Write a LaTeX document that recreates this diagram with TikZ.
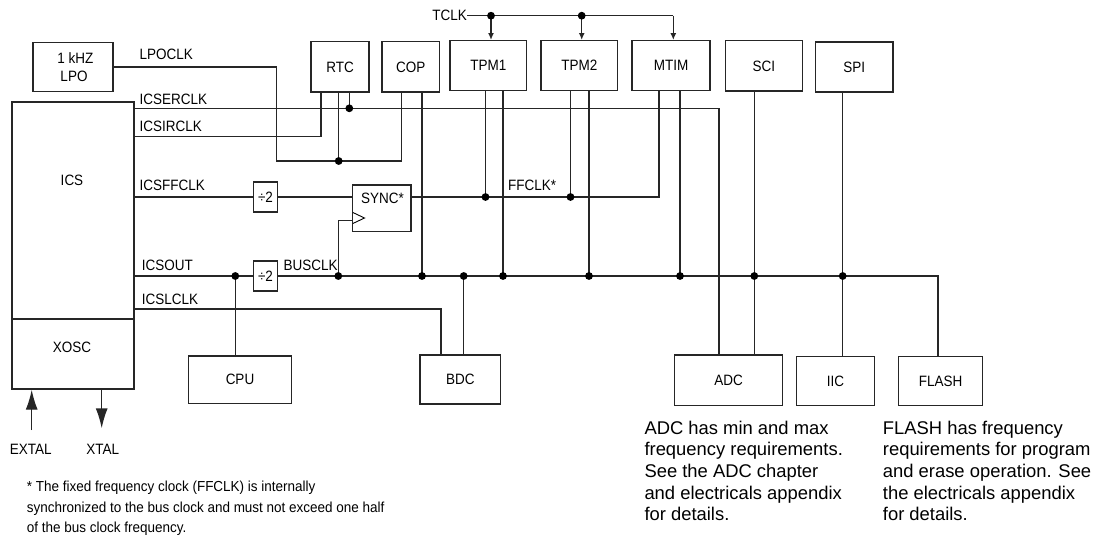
\documentclass[tikz,border=0pt]{standalone}
\usepackage{fontspec}
\setmainfont{Liberation Sans}
\newfontfamily\narrowfont[FakeStretch=0.9]{Liberation Sans}
\newfontfamily\footfont[FakeStretch=0.93]{Liberation Sans}
\usetikzlibrary{arrows.meta}
\begin{document}
\begin{tikzpicture}[x=1pt,y=-1pt,
  wire/.style={line width=1.4pt, black!85},
  blk/.style={draw=black!85, line width=1.4pt, inner sep=0pt, font=\narrowfont\fontsize{15}{18}\selectfont},
  lbl/.style={inner sep=0pt, font=\narrowfont\fontsize{15}{18}\selectfont},
  note/.style={inner sep=0pt, anchor=base west, font=\fontsize{18.4}{21.7}\selectfont},
  foot/.style={inner sep=0pt, anchor=base west, font=\footfont\fontsize{14.5}{20.7}\selectfont},
  jdot/.style={fill=black},
  smallarrow/.style={wire,-{Latex[length=7pt,width=6pt]}},
  bigarrow/.style={wire,-{Latex[length=20pt,width=12pt]}}]
\useasboundingbox (0,0) rectangle (1094,538);
\fill[white] (0,0) rectangle (1094,538);

% ---------- blocks ----------
\node[blk, minimum width=80pt, minimum height=49pt] (lpo) at (73,67) {};
\node[lbl, anchor=base] (lpo1) at (75.5,63.3) {1 kHZ};
\node[lbl, anchor=base] (lpo2) at (74,81.7) {LPO};
\node[blk, minimum width=122pt, minimum height=217pt] (ics) at (73,210.5) {};
\node[lbl] (icsl) at (72,180.5) {ICS};
\node[blk, minimum width=122pt, minimum height=70pt] (xosc) at (73,354) {};
\node[lbl] (xoscl) at (72,347) {XOSC};

\node[blk, minimum width=58pt, minimum height=50.3pt] (rtc) at (340,66.85) {RTC};
\node[blk, minimum width=57.3pt, minimum height=50.3pt] (cop) at (410.65,66.85) {COP};
\node[blk, minimum width=76.7pt, minimum height=50pt] (tpm1) at (488.35,65.7) {TPM1};
\node[blk, minimum width=76.7pt, minimum height=50pt] (tpm2) at (579.35,65.7) {TPM2};
\node[blk, minimum width=78pt, minimum height=50pt] (mtim) at (671,65.7) {MTIM};
\node[blk, minimum width=77pt, minimum height=50.3pt] (sci) at (763.8,65.85) {SCI};
\node[blk, minimum width=77.3pt, minimum height=50pt] (spi) at (854.35,67) {SPI};

\node[blk, minimum width=24.4pt, minimum height=30pt] (div1) at (265.5,197) {÷2};
\node[blk, minimum width=24.4pt, minimum height=30pt] (div2) at (265.5,276) {÷2};
\node[blk, minimum width=58.7pt, minimum height=46.7pt] (sync) at (381.65,208.35) {};
\node[lbl, anchor=base west] (syncl) at (361,203) {SYNC*};
\draw[line width=0.9pt] (352.9,212.5) -- (364.5,218) -- (352.9,223.5);

\node[blk, minimum width=103.4pt, minimum height=47.3pt] (cpu) at (240,379.65) {CPU};
\node[blk, minimum width=80.7pt, minimum height=49pt] (bdc) at (460.35,379.5) {BDC};
\node[blk, minimum width=108.4pt, minimum height=50.7pt] (adc) at (728.5,380.35) {ADC};
\node[blk, minimum width=77.6pt, minimum height=49pt] (iic) at (835.5,381.2) {IIC};
\node[blk, minimum width=84.4pt, minimum height=49pt] (flash) at (940.5,381.2) {FLASH};

% ---------- signal labels ----------
\node[lbl, anchor=base west] (tlpo) at (139.3,59) {LPOCLK};
\node[lbl, anchor=base west] (ter) at (139.3,104) {ICSERCLK};
\node[lbl, anchor=base west] (tir) at (139.3,131.7) {ICSIRCLK};
\node[lbl, anchor=base west] (tff) at (139.3,190) {ICSFFCLK};
\node[lbl, anchor=base west] (tout) at (141.7,270) {ICSOUT};
\node[lbl, anchor=base west] (tlc) at (141.7,304) {ICSLCLK};
\node[lbl, anchor=base west] (tbus) at (283.3,270) {BUSCLK};
\node[lbl, anchor=base west] (tffclk) at (508,190) {FFCLK*};
\node[lbl, anchor=east] (tclk) at (467,15.7) {TCLK};
\node[lbl, anchor=base] (extal) at (30.8,454) {EXTAL};
\node[lbl, anchor=base] (xtal) at (102.7,454) {XTAL};

% ---------- coordinates ----------
\coordinate (cLPOturn) at (276.5,161);
\coordinate (cCOPin) at (401.7,161);
\coordinate (dRTC) at (338.7,161);
\coordinate (cER) at (719,108.3);
\coordinate (dER) at (349.3,108.3);
\coordinate (cIR) at (321,136.7);
\coordinate (cFF) at (659,197);
\coordinate (dFF1) at (485.5,197);
\coordinate (dFF2) at (570.5,197);
\coordinate (dCPU) at (235.3,276);
\coordinate (cBUSend) at (938,276);
\coordinate (dSYNC) at (338.3,276);
\coordinate (cCK) at (338.3,220.7);
\coordinate (dCOP) at (422,276);
\coordinate (dBDC) at (463.7,276);
\coordinate (dT1) at (503,276);
\coordinate (dT2) at (589,276);
\coordinate (dMT) at (680,276);
\coordinate (dSCI) at (754.3,276);
\coordinate (dSPI) at (842.7,276);
\coordinate (cSL) at (441,309);
\coordinate (cT) at (673.3,15.7);
\coordinate (dTa) at (491,15.7);
\coordinate (dTb) at (581.7,15.7);
\coordinate (cEX) at (31.7,430);
\coordinate (cXT) at (101.7,428.3);

% ---------- connectors ----------
\draw[wire] (lpo.east) -| (cLPOturn) -- (cCOPin) -- (cop.south -| cCOPin);
\draw[wire] (rtc.south -| dRTC) -- (dRTC);
\draw[wire] (ics.east |- cER) -- (cER) -- (adc.north -| cER);
\draw[wire] (rtc.south -| dER) -- (dER);
\draw[wire] (ics.east |- cIR) -- (cIR) -- (rtc.south -| cIR);
\draw[wire] (ics.east |- div1.west) -- (div1.west);
\draw[wire] (div1.east) -- (div1.east -| sync.west);
\draw[wire] (sync.east |- cFF) -- (cFF) -- (mtim.south -| cFF);
\draw[wire] (tpm1.south -| dFF1) -- (dFF1);
\draw[wire] (tpm2.south -| dFF2) -- (dFF2);
\draw[wire] (ics.east |- div2.west) -- (div2.west);
\draw[wire] (dCPU) -- (cpu.north -| dCPU);
\draw[wire] (div2.east) -- (cBUSend) -- (flash.north -| cBUSend);
\draw[wire] (dSYNC) -- (cCK) -- (cCK -| sync.west);
\draw[wire] (cop.south -| dCOP) -- (dCOP);
\draw[wire] (bdc.north -| dBDC) -- (dBDC);
\draw[wire] (tpm1.south -| dT1) -- (dT1);
\draw[wire] (tpm2.south -| dT2) -- (dT2);
\draw[wire] (mtim.south -| dMT) -- (dMT);
\draw[wire] (sci.south -| dSCI) -- (adc.north -| dSCI);
\draw[wire] (spi.south -| dSPI) -- (iic.north -| dSPI);
\draw[wire] (ics.east |- cSL) -- (cSL) -- (bdc.north -| cSL);
\draw[wire] (tclk.east) -- (cT);
\draw[smallarrow] (cT) -- (mtim.north -| cT);
\draw[smallarrow] (dTa) -- (tpm1.north -| dTa);
\draw[smallarrow] (dTb) -- (tpm2.north -| dTb);
\draw[bigarrow] (cEX) -- (xosc.south -| cEX);
\draw[bigarrow] (xosc.south -| cXT) -- (cXT);

% ---------- junction dots ----------
\foreach \d in {dRTC,dER,dFF1,dFF2,dCPU,dSYNC,dCOP,dBDC,dT1,dT2,dMT,dSCI,dSPI,dTa,dTb}
  \fill[jdot] (\d) circle (3.9pt);

% ---------- notes ----------
\foreach \t [count=\i] in {ADC has min and max, frequency requirements., See the ADC chapter, and electricals appendix, for details.}
  \node[note] (adcn\i) at (644.3,{434+21.7*(\i-1)}) {\t};
\foreach \t [count=\i] in {FLASH has frequency, requirements for program, and erase operation. See, the electricals appendix, for details.}
  \node[note] (flan\i) at (882.7,{434+21.7*(\i-1)}) {\t};
\node[foot] (fn1) at (26.7,491.5) {* The fixed frequency clock (FFCLK) is internally};
\node[foot] (fn2) at (26.7,512.2) {synchronized to the bus clock and must not exceed one half};
\node[foot] (fn3) at (26.7,532.9) {of the bus clock frequency.};
\end{tikzpicture}
\end{document}
